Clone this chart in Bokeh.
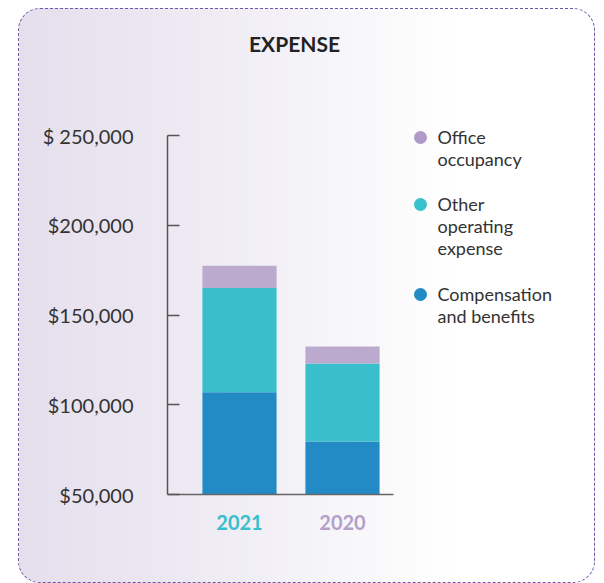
from bokeh.plotting import figure
from bokeh.models import Range1d, FixedTicker, Label
from bokeh.embed import file_html
from bokeh.resources import INLINE

# ---- data ----
years = ["2021", "2020"]
series = ["Compensation and benefits", "Other operating expense", "Office occupancy"]
compensation = [107000, 79500]
other_operating = [58000, 43500]
office_occupancy = [12500, 9500]
bar_colors = ["#228bc5", "#38bfcb", "#bcaace"]
legend_colors = ["#b09ac8", "#38c0cc", "#228bc5"]   # legend order: office, other, compensation
year_colors = ["#38bfcb", "#b3a0cb"]
y_ticks = [50000, 100000, 150000, 200000, 250000]
y_tick_labels = ["$50,000", "$100,000", "$150,000", "$200,000", "$ 250,000"]
legend_lines = [["Office", "occupancy"], ["Other", "operating", "expense"], ["Compensation", "and benefits"]]

FONT = "Lato"

# layout: page pixels of the value axis (top/bottom) and the card
AX_L, AX_R, AX_T, AX_B = 167, 393, 134, 493
CARD_L, CARD_R, CARD_T, CARD_B = 19, 596, 8, 583
X0, PX_PER_UNIT = -0.699, 103.0
Y_AXIS_MIN, Y_AXIS_MAX = 50000, 250000


def to_x(px):
    return X0 + (px - AX_L) / PX_PER_UNIT


def to_y(py):
    return Y_AXIS_MIN + (AX_B - py) / (AX_B - AX_T) * (Y_AXIS_MAX - Y_AXIS_MIN)


p = figure(width=CARD_R - CARD_L, height=CARD_B - CARD_T,
           x_range=Range1d(X0, to_x(CARD_R)), y_range=Range1d(to_y(CARD_B), to_y(CARD_T)),
           output_backend="svg", toolbar_location=None,
           min_border_left=AX_L - CARD_L, min_border_right=0, min_border_top=0,
           min_border_bottom=0,
           background_fill_color=None, border_fill_color=None, outline_line_color=None)
p.margin = (8, 0, 0, 18)
p.styles = {
    "background": "linear-gradient(90deg, #e5dfed 0%, #efecf4 35%, #f9f9fb 62%, #ffffff 76%, #ffffff 100%)",
    "border": "1px dashed #6f55a8",
    "border-radius": "22px",
    "box-sizing": "border-box",
}

# stacked bars (value axis starts at $50,000, so the lowest segment starts there)
xs = list(range(len(years)))
cum = [0] * len(years)
for vals, col in zip([compensation, other_operating, office_occupancy], bar_colors):
    top = [c + v for c, v in zip(cum, vals)]
    p.vbar(x=xs, width=0.72, bottom=[max(c, Y_AXIS_MIN) for c in cum], top=top,
           color=col, line_color=None)
    cum = top

# x baseline
p.segment(x0=[to_x(AX_L)], y0=[Y_AXIS_MIN], x1=[to_x(AX_R)], y1=[Y_AXIS_MIN],
          line_color="#666666", line_width=1.5)

p.grid.visible = False

# y axis
ya = p.yaxis[0]
ya.bounds = (Y_AXIS_MIN, Y_AXIS_MAX)
ya.ticker = FixedTicker(ticks=y_ticks)
ya.major_label_overrides = {t: l for t, l in zip(y_ticks, y_tick_labels)}
ya.major_tick_in = 12
ya.major_tick_out = 0
ya.minor_tick_line_color = None
ya.major_label_standoff = 34
ya.axis_line_color = "#555555"
ya.axis_line_width = 1.5
ya.major_tick_line_color = "#555555"
ya.major_tick_line_width = 1.5
ya.major_label_text_font = FONT
ya.major_label_text_font_size = "20px"
ya.major_label_text_color = "#333333"

p.xaxis.visible = False

# year labels
for i, (yr, c) in enumerate(zip(years, year_colors)):
    p.add_layout(Label(x=i, y=to_y(521), text=yr, text_align="center",
                       text_baseline="middle", text_font=FONT, text_font_style="bold",
                       text_font_size="20px", text_color=c))

# title
p.add_layout(Label(x=to_x(294), y=to_y(41.5), text="EXPENSE",
                   text_align="center", text_baseline="middle", text_font=FONT,
                   text_font_style="bold", text_font_size="21px", text_color="#222222"))

# legend
leg_py = [136, 203, 293]
p.scatter(x=[to_x(420)] * 3, y=[to_y(v) for v in leg_py], size=13,
          color=legend_colors, line_color=None)
for y0, lines in zip(leg_py, legend_lines):
    for k, t in enumerate(lines):
        p.add_layout(Label(x=to_x(437), y=to_y(y0 - 1 + 22 * k), text=t,
                           text_baseline="middle", text_font=FONT, text_font_size="18px",
                           text_color="#333333"))

open("out.html", "w").write(file_html(p, INLINE))
